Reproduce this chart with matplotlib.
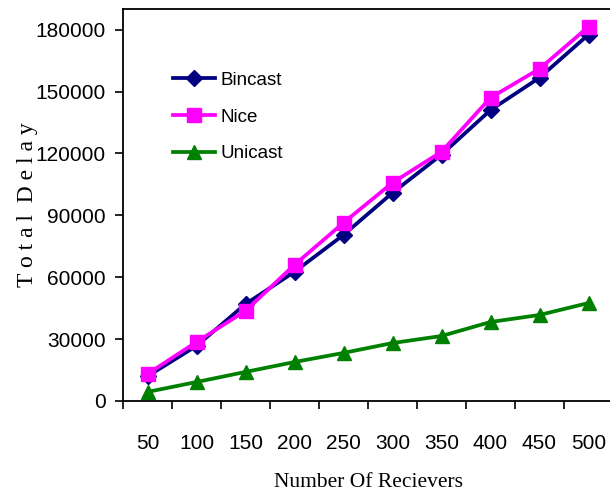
import numpy as np
import matplotlib.pyplot as plt

# receivers (categories)
receivers = ['50', '100', '150', '200', '250', '300', '350', '400', '450', '500']

# total delay per protocol
bincast = [12000, 26700, 47000, 62600, 80500, 100900, 119400, 141000, 156700, 177600]
nice = [13100, 28600, 43700, 66000, 86400, 105800, 120800, 147000, 161000, 181400]
unicast = [4400, 9200, 14100, 18900, 23300, 28100, 31500, 38300, 41700, 47500]

fig = plt.figure(figsize=(6.1, 4.95), dpi=100)
ax = fig.add_axes([123/610, 1 - 401/495, 490/610, 392/495])

x = np.arange(len(receivers))
ax.plot(x, bincast, color='#000080', lw=2.7, marker='D', ms=8, label='Bincast')
ax.plot(x, nice, color='#FF00FF', lw=2.7, marker='s', ms=9.5, label='Nice')
ax.plot(x, unicast, color='#008000', lw=2.7, marker='^', ms=10.5, label='Unicast')

ax.set_xlim(-0.5, len(receivers) - 0.5)
ax.set_ylim(0, 190000)
ax.set_yticks(np.arange(0, 180001, 30000))

# ticks between categories, labels at the centres
ax.set_xticks(np.arange(-0.5, len(receivers), 1.0))
ax.set_xticklabels([])
ax.set_xticks(x, minor=True)
ax.set_xticklabels(receivers, minor=True)
ax.tick_params(axis='x', which='major', direction='out', length=6, width=1.2)
ax.tick_params(axis='x', which='minor', length=0, pad=24)
ax.tick_params(axis='y', direction='out', length=5.5, width=1.2, pad=7)
for lab in ax.get_xticklabels(minor=True) + ax.get_yticklabels():
    lab.set_fontfamily('Liberation Sans')
    lab.set_fontsize(15)

ax.spines['right'].set_visible(False)
for s in ['top', 'left', 'bottom']:
    ax.spines[s].set_linewidth(1.3)

ax.set_xlabel('Number Of Recievers', family='Liberation Serif', fontsize=15.5, labelpad=14)
ax.set_ylabel('T o t a l  D e l a y', family='Liberation Serif', fontsize=17, labelpad=-2)

leg = ax.legend(loc='upper left', bbox_to_anchor=(0.103, 0.84), frameon=False,
                prop={'family': 'Liberation Sans', 'size': 13.5},
                handlelength=2.2, handletextpad=0.3, labelspacing=1.05,
                borderpad=0, borderaxespad=0)

fig.savefig('out.png', dpi=100)
